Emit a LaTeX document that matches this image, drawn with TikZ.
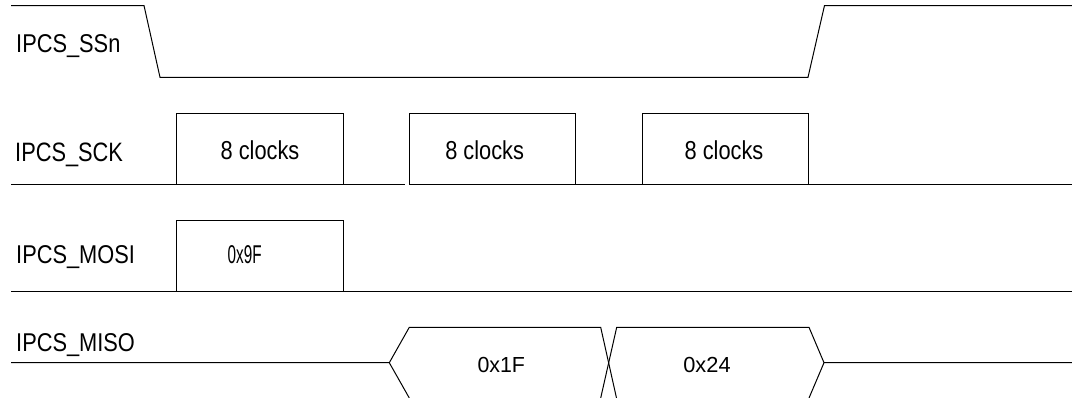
\documentclass[tikz,border=0pt]{standalone}
\usepackage{fontspec}
\setmainfont{Liberation Sans}
\begin{document}
\begin{tikzpicture}[x=1pt,y=-1pt,
  sig/.style={line width=1pt, line join=miter, draw=black},
  lbl/.style={inner sep=0pt, anchor=base west, font=\fontsize{21.8}{26}\selectfont},
  val/.style={inner sep=0pt, anchor=base, font=\fontsize{21.8}{26}\selectfont}]
\useasboundingbox (0,0) rectangle (1072,397);
\begin{scope}
\clip (0,0) rectangle (1072,397);
% labels
\node[lbl] (lssn)  at (16,52)    {\scalebox{1}[1.18]{IPCS\_SSn}};
\node[lbl] (lsck)  at (15,161.5) {\scalebox{1}[1.22]{IPCS\_SCK}};
\node[lbl] (lmosi) at (16,263.3) {\scalebox{1}[1.18]{IPCS\_MOSI}};
\node[lbl] (lmiso) at (16,351.7) {\scalebox{1}[1.18]{IPCS\_MISO}};
% SSn
\draw[sig] (11,5.5) -- (144,5.5) -- (160,77.3) -- (808,77.3) -- (824.5,5.5) -- (1072,5.5);
% SCK
\draw[sig] (11,184.3) -- (405,184.3);
\draw[sig] (409.3,184.3) -- (1072,184.3);
\draw[sig] (176.7,184.3) |- (343.3,113.3) -- (343.3,184.3);
\draw[sig] (409.3,184.3) |- (575.7,113.3) -- (575.7,184.3);
\draw[sig] (642,184.3) |- (808.3,113.3) -- (808.3,184.3);
\node[val] (c1) at (260,159)   {\scalebox{1}[1.19]{8 clocks}};
\node[val] (c2) at (484.7,159) {\scalebox{1}[1.19]{8 clocks}};
\node[val] (c3) at (724,159)   {\scalebox{1}[1.19]{8 clocks}};
% MOSI
\draw[sig] (11,291.5) -- (1072,291.5);
\draw[sig] (176.7,291.5) |- (343.3,220.7) -- (343.3,291.5);
\node[val] (d1) at (244.7,263.3) {\scalebox{0.7}[1.18]{0x9F}};
% MISO
\draw[sig] (11,362.7) -- (389.3,362.7) -- (409.3,327.3) -- (600.7,327.3) -- (616.5,398);
\draw[sig] (389.3,362.7) -- (409.3,398);
\draw[sig] (600.7,398) -- (616.7,327.3) -- (809,327.3) -- (824,362.7) -- (1072,362.7);
\draw[sig] (824,362.7) -- (809,398);
\node[val] (m1) at (501.3,372.3) {\scalebox{0.98}[1]{0x1F}};
\node[val] (m2) at (707,372.3)   {\scalebox{1}[1]{0x24}};
\end{scope}
\end{tikzpicture}
\end{document}
